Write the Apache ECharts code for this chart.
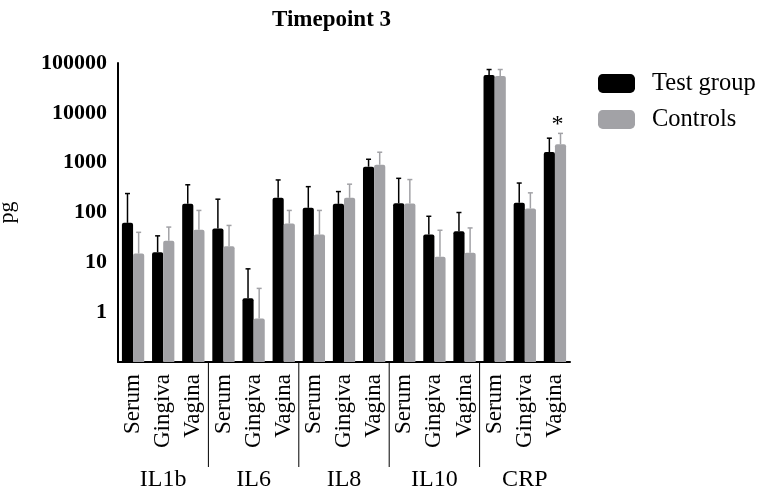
<!DOCTYPE html>
<html>
<head>
<meta charset="utf-8">
<script src="https://cdn.jsdelivr.net/npm/echarts@6/dist/echarts.min.js"></script>
<style>
  html, body { margin: 0; padding: 0; background: #fff; }
  #chart { width: 765px; height: 492px; }
</style>
</head>
<body>
<div id="chart"></div>
<script>
// groups and tissues
var markers = ['IL1b', 'IL6', 'IL8', 'IL10', 'CRP'];
var tissues = ['Serum', 'Gingiva', 'Vagina'];

// means (pg), order: IL1b S/G/V, IL6 S/G/V, IL8 S/G/V, IL10 S/G/V, CRP S/G/V
var testMean = [62, 16, 149, 48, 1.9, 197, 124, 149, 830, 154, 36, 42, 57500, 157, 1630];
var testUpper = [240, 34, 360, 185, 7.4, 450, 330, 263, 1170, 485, 84, 100, 74000, 390, 3100];
var ctrlMean = [15, 27, 45, 21, 0.75, 60, 36, 197, 910, 151, 13, 15.6, 55000, 120, 2340];
var ctrlUpper = [40, 51, 110, 55, 3.0, 110, 110, 370, 1620, 458, 44, 49, 74000, 248, 3870];
var sigIndex = [14];

var yMin = 0.1;
var yTicks = [1, 10, 100, 1000, 10000, 100000];

var categories = [];
markers.forEach(function (m) {
  tissues.forEach(function (t) { categories.push(t); });
});
// last category index of each group except the final one
var groupEnds = [];
for (var g = 1; g < markers.length; g++) groupEnds.push(g * tissues.length - 1);

var BAR_FRAC = 0.37;
var FONT = "'Liberation Serif', 'Times New Roman', serif";
var GRAY = '#a2a2a6';

function pairs(vals) {
  return vals.map(function (v, i) { return [i, v]; });
}
function errData(mean, upper) {
  return mean.map(function (v, i) { return [i, v, upper[i]]; });
}

// bars drawn from the axis floor (0.1), not from 1 as ECharts does on log axes
function barRender(sign) {
  return function (params, api) {
    var i = api.value(0);
    var top = api.coord([i, api.value(1)]);
    var floor = api.coord([i, yMin]);
    var w = api.size([1, 1])[0] * BAR_FRAC;
    var x0 = sign < 0 ? top[0] - w : top[0];
    return {
      type: 'rect',
      shape: { x: x0, y: top[1], width: w, height: floor[1] - top[1], r: [2, 2, 0, 0] },
      style: api.style()
    };
  };
}

function errRender(sign, color, withSig) {
  return function (params, api) {
    var i = api.value(0);
    var base = api.coord([i, api.value(1)]);
    var top = api.coord([i, api.value(2)]);
    var band = api.size([1, 1])[0];
    var cx = base[0] + sign * band * BAR_FRAC / 2;
    var kids = [
      { type: 'line', shape: { x1: cx, y1: base[1], x2: cx, y2: top[1] },
        style: { stroke: color, lineWidth: 1.5 } },
      { type: 'line', shape: { x1: cx - 2.5, y1: top[1], x2: cx + 2.5, y2: top[1] },
        style: { stroke: color, lineWidth: 1.5 } }
    ];
    if (withSig && sigIndex.indexOf(i) >= 0) {
      kids.push({ type: 'text', x: cx - 3, y: top[1] + 3,
        style: { text: '*', fill: '#000', font: '24px ' + FONT, align: 'center', verticalAlign: 'bottom' } });
    }
    return { type: 'group', children: kids };
  };
}

var chart = echarts.init(document.getElementById('chart'));
chart.setOption({
  animation: false,
  title: {
    text: 'Timepoint 3',
    left: 267, top: 4,
    textStyle: { fontFamily: FONT, fontSize: 23, fontWeight: 'bold', color: '#000' }
  },
  legend: {
    orient: 'vertical',
    left: 593, top: 66,
    itemWidth: 37, itemHeight: 19, itemGap: 11,
    icon: 'roundRect',
    data: ['Test group', 'Controls'],
    textStyle: { fontFamily: FONT, fontSize: 24.5, color: '#000', padding: [0, 0, 0, 12] }
  },
  grid: { left: 118, right: 195, top: 63, bottom: 130, outerBoundsMode: 'none' },
  xAxis: [{
    type: 'category',
    data: categories,
    axisLine: { lineStyle: { color: '#000', width: 2 } },
    axisTick: { alignWithLabel: true, length: 7, lineStyle: { color: '#000', width: 1.5 } },
    axisLabel: { rotate: 90, interval: 0, margin: 12, fontFamily: FONT, fontSize: 23, color: '#000' }
  }, {
    type: 'category',
    data: markers,
    position: 'bottom',
    offset: 98,
    axisLine: { show: false },
    axisTick: { show: false },
    axisLabel: { interval: 0, fontFamily: FONT, fontSize: 24, color: '#000' }
  }],
  yAxis: {
    type: 'log',
    logBase: 10,
    min: yMin,
    max: yTicks[yTicks.length - 1],
    name: 'pg',
    nameLocation: 'middle',
    nameRotate: 90,
    nameGap: 100,
    nameTextStyle: { fontFamily: FONT, fontSize: 22, color: '#000' },
    splitLine: { show: false },
    axisLine: { show: true, lineStyle: { color: '#000', width: 2 } },
    axisTick: { length: 8, customValues: yTicks, lineStyle: { color: '#000', width: 2 } },
    axisLabel: {
      margin: 11,
      customValues: yTicks,
      fontFamily: FONT, fontSize: 22, fontWeight: 'bold', color: '#000',
      formatter: function (v) { return String(Math.round(v)); }
    }
  },
  series: [{
    name: 'Test group',
    type: 'custom',
    data: pairs(testMean),
    renderItem: barRender(-1),
    itemStyle: { color: '#000' }
  }, {
    name: 'Controls',
    type: 'custom',
    data: pairs(ctrlMean),
    renderItem: barRender(1),
    itemStyle: { color: GRAY }
  }, {
    type: 'custom',
    data: errData(testMean, testUpper),
    renderItem: errRender(-1, '#000', false),
    clip: false, z: 3
  }, {
    type: 'custom',
    data: errData(ctrlMean, ctrlUpper),
    renderItem: errRender(1, GRAY, true),
    clip: false, z: 3
  }, {
    type: 'custom',
    data: groupEnds.map(function (i) { return [i, yMin]; }),
    renderItem: function (params, api) {
      var p = api.coord([api.value(0), api.value(1)]);
      var x = p[0] + api.size([1, 1])[0] / 2;
      return { type: 'line', shape: { x1: x, y1: p[1], x2: x, y2: p[1] + 105 },
        style: { stroke: '#000', lineWidth: 1 } };
    },
    clip: false, silent: true
  }]
});
</script>
</body>
</html>
